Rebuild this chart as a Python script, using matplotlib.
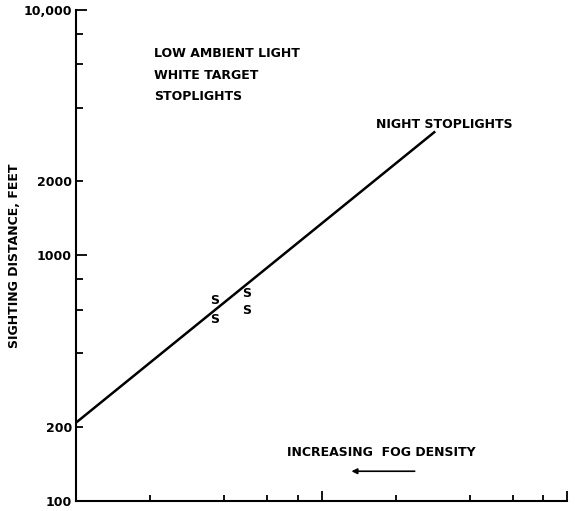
import matplotlib.pyplot as plt

# fog density axis (unlabeled in the original), log scale
x_major = [1, 10]
x_minor = [0.2, 0.4, 0.6, 0.8, 2, 4, 6, 8]

# sighting distance ticks
y_major = [100, 1000, 10000]
y_major_labels = ['100', '1000', '10,000']
y_minor = [200, 400, 600, 800, 2000, 4000, 6000, 8000]
y_minor_labels = ['200', '', '', '', '2000', '', '', '']

# night stoplights line
line_x = [0.1, 2.9]
line_y = [208, 3200]

# observed points (S)
s_x = [0.367, 0.367, 0.493, 0.493]
s_y = [655, 546, 702, 597]

plt.rcParams['font.family'] = ['DejaVu Sans']
plt.rcParams['font.weight'] = 'bold'
FS = 9

fig = plt.figure(figsize=(5.75, 5.11), dpi=100)
ax = fig.add_axes([0.1322, 0.0202, 0.8544, 0.9602])

ax.plot(line_x, line_y, color='black', lw=1.8, solid_capstyle='butt')
for x, y in zip(s_x, s_y):
    ax.text(x, y, 'S', ha='center', va='center', fontsize=FS, fontweight='bold')

ax.set_xscale('log')
ax.set_yscale('log')
ax.set_xlim(0.1, 10)
ax.set_ylim(100, 10000)

ax.set_xticks(x_major, labels=['', ''])
ax.set_xticks(x_minor, labels=[''] * len(x_minor), minor=True)
ax.set_yticks(y_major, labels=y_major_labels)
ax.set_yticks(y_minor, labels=y_minor_labels, minor=True)

ax.spines['top'].set_visible(False)
ax.spines['right'].set_visible(False)
ax.spines['left'].set_linewidth(1.5)
ax.spines['bottom'].set_linewidth(1.5)
ax.tick_params(axis='both', which='both', direction='in', width=1.3,
               labelsize=FS, pad=3, colors='black')
ax.tick_params(axis='y', which='major', length=8)
ax.tick_params(axis='y', which='minor', length=5)
ax.tick_params(axis='x', which='major', length=7)
ax.tick_params(axis='x', which='minor', length=4.5)
for lab in ax.get_yticklabels(which='both'):
    lab.set_fontweight('bold')

ax.set_ylabel('SIGHTING DISTANCE, FEET', fontsize=FS, fontweight='bold')
ax.yaxis.set_label_coords(-0.112, 0.5)

ax.text(0.158, 0.925, 'LOW AMBIENT LIGHT\nWHITE TARGET\nSTOPLIGHTS',
        transform=ax.transAxes, fontsize=FS, fontweight='bold', va='top',
        linespacing=1.88)
ax.text(0.61, 0.767, 'NIGHT STOPLIGHTS', transform=ax.transAxes,
        fontsize=FS, fontweight='bold', va='center')
ax.text(0.43, 0.098, 'INCREASING  FOG DENSITY', transform=ax.transAxes,
        fontsize=FS, fontweight='bold', va='center')
ax.annotate('', xy=(0.555, 0.06), xytext=(0.695, 0.06), xycoords='axes fraction',
            arrowprops=dict(arrowstyle='-|>', color='black', lw=1.2,
                            mutation_scale=8))

fig.savefig('out.png', dpi=100)
